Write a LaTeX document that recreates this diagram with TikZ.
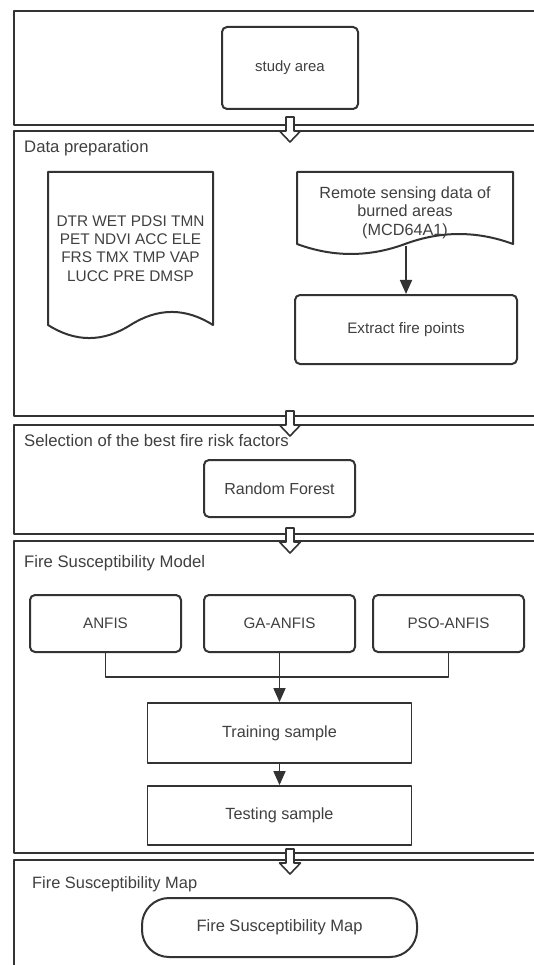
\documentclass[tikz,border=0pt]{standalone}
\usepackage{fontspec}
\setmainfont{Liberation Sans}
\usetikzlibrary{arrows.meta}
\definecolor{lc}{RGB}{51,51,51}
\definecolor{tc}{RGB}{64,64,64}
\begin{document}
\begin{tikzpicture}[x=1pt,y=-1pt, line join=round,
  panel/.style={draw=lc, line width=2.2pt},
  rbox/.style={draw=lc, line width=2pt, rounded corners=5pt, text=tc, inner sep=0pt, align=center},
  sbox/.style={draw=lc, line width=1.8pt, text=tc, inner sep=0pt, align=center},
  lbl/.style={anchor=base west, text=tc, inner sep=0pt, font=\fontsize{16.7}{20}\selectfont},
  doctext/.style={text=tc, inner sep=0pt, align=center},
  conn/.style={draw=lc, line width=1.7pt},
  arr/.style={conn, -{Triangle[length=14pt,width=12pt]}},
  hollow/.style={draw=lc, line width=1.6pt, fill=white},
  harrow/.pic={\draw[hollow] (-4,0) -- (4,0) -- (4,14) -- (10.5,14) -- (0,25) -- (-10.5,14) -- (-4,14) -- cycle;}]
\useasboundingbox (0,0) rectangle (534,965);
\clip (0,0) rectangle (534,965);
\fill[white] (0,0) rectangle (534,965);

% panels
\draw[panel] (14,11) rectangle (545,125);
\draw[panel] (14,131) rectangle (545,416);
\draw[panel] (14,425) rectangle (545,534);
\draw[panel] (14,541) rectangle (545,853);
\draw[panel] (14,860) rectangle (545,980);

% panel labels
\node[lbl] (l2) at (24,153) {Data preparation};
\node[lbl] (l3) at (24,446) {Selection of the best fire risk factors};
\node[lbl] (l4) at (24,567) {Fire Susceptibility Model};
\node[lbl, font=\fontsize{16.4}{20}\selectfont] (l5) at (32,888) {Fire Susceptibility Map};

% panel 1
\node[rbox, minimum width=136pt, minimum height=82pt, font=\fontsize{14.9}{18}\selectfont] (study) at (290,68) {study area};

% panel 2: documents
\draw[draw=lc, line width=2pt, fill=white] (48,172) -- (213,172) -- (213,325)
  .. controls (185.5,307.6) and (158,307.6) .. (130.5,325)
  .. controls (103,342.4) and (75.5,342.4) .. (48,325) -- cycle;
\node[doctext, font=\fontsize{15.4}{18.3}\selectfont] (docl) at (130.5,248.5)
  {DTR WET PDSI TMN\\PET NDVI ACC ELE\\FRS TMX TMP VAP\\LUCC PRE DMSP};

\draw[draw=lc, line width=2pt, fill=white] (297,172) -- (513,172) -- (513,244)
  .. controls (477,230.7) and (441,230.7) .. (405,244)
  .. controls (369,257.3) and (333,257.3) .. (297,244) -- cycle;
\node[doctext, font=\fontsize{16.2}{18.5}\selectfont] (docr) at (405,212.5)
  {Remote sensing data of\\burned areas\\(MCD64A1)};
\coordinate (docrb) at (406,246);

\node[rbox, minimum width=222pt, minimum height=69pt, font=\fontsize{15.2}{18}\selectfont] (extract) at (406,329.5) {Extract fire points};
\draw[arr] (docrb) -- (extract.north);

% panel 3
\node[rbox, minimum width=151pt, minimum height=57pt, font=\fontsize{16}{19}\selectfont] (rf) at (279.5,488.5) {Random Forest};

% panel 4
\node[rbox, minimum width=151pt, minimum height=57pt, font=\fontsize{15.2}{18}\selectfont] (anfis) at (105.5,623.5) {ANFIS};
\node[rbox, minimum width=151pt, minimum height=57pt, font=\fontsize{15.2}{18}\selectfont] (ga) at (279.5,623.5) {GA-ANFIS};
\node[rbox, minimum width=151pt, minimum height=57pt, font=\fontsize{15.2}{18}\selectfont] (pso) at (448.5,623.5) {PSO-ANFIS};
\node[sbox, minimum width=264pt, minimum height=60pt, font=\fontsize{16.2}{19}\selectfont] (train) at (279.5,733) {Training sample};
\node[sbox, minimum width=264pt, minimum height=59pt, font=\fontsize{16.2}{19}\selectfont] (test) at (279.5,815.5) {Testing sample};
\coordinate (j) at (279.5,677);
\draw[conn] (anfis.south) |- (j) -| (pso.south);
\draw[arr] (ga.south) -- (train.north);
\draw[arr] (train.south) -- (test.north);

% panel 5
\node[draw=lc, line width=2pt, rounded corners=27pt, text=tc, inner sep=0pt, minimum width=275pt, minimum height=59pt, font=\fontsize{16.5}{19}\selectfont] (map) at (279.5,927.5) {Fire Susceptibility Map};

% hollow arrows between panels
\pic at (290,117) {harrow};
\pic at (290,411) {harrow};
\pic at (290,528) {harrow};
\pic at (290,849) {harrow};
\end{tikzpicture}
\end{document}
